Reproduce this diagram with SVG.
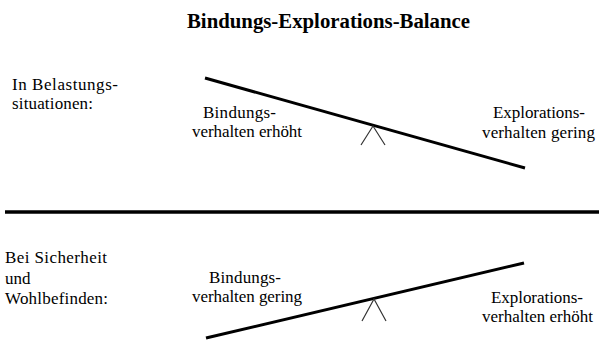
<svg xmlns="http://www.w3.org/2000/svg" width="599" height="340" viewBox="0 0 599 340">
<style>
text{font-family:"Liberation Serif","Times New Roman",serif;font-size:17px;fill:#000}
.title{font-weight:bold;font-size:20px}
.beam{stroke:#000;stroke-width:3;fill:none}
.sep{stroke:#000;stroke-width:3.5;fill:none}
.fulcrum{stroke:#333;stroke-width:1.2;fill:none}
</style>
<rect width="599" height="340" fill="#fff"/>
<g id="title"><text class="title" x="187" y="28" textLength="283" lengthAdjust="spacingAndGlyphs">Bindungs-Explorations-Balance</text></g>
<g id="label-belastung">
<text x="12" y="90" textLength="106" lengthAdjust="spacing">In Belastungs-</text>
<text x="12" y="109" textLength="81" lengthAdjust="spacing">situationen:</text>
</g>
<g id="label-sicherheit">
<text x="5" y="263" textLength="102" lengthAdjust="spacing">Bei Sicherheit</text>
<text x="5" y="284">und</text>
<text x="5" y="304" textLength="103" lengthAdjust="spacing">Wohlbefinden:</text>
</g>
<g id="top-balance">
<line class="beam" x1="205" y1="78" x2="525" y2="168"/>
<polyline class="fulcrum" points="361,145 373,126 385,145"/>
</g>
<g id="top-bindung">
<text x="203" y="118" textLength="73" lengthAdjust="spacing">Bindungs-</text>
<text x="192" y="137" textLength="110" lengthAdjust="spacing">verhalten erhöht</text>
</g>
<g id="top-exploration">
<text x="493" y="118" textLength="92" lengthAdjust="spacing">Explorations-</text>
<text x="482" y="138" textLength="113" lengthAdjust="spacing">verhalten gering</text>
</g>
<g id="separator"><line class="sep" x1="5" y1="212" x2="599" y2="212"/></g>
<g id="bottom-balance">
<line class="beam" x1="206" y1="338" x2="524" y2="263"/>
<polyline class="fulcrum" points="362,321 374,299 386,321"/>
</g>
<g id="bottom-bindung">
<text x="209" y="283" textLength="72" lengthAdjust="spacing">Bindungs-</text>
<text x="192" y="302" textLength="110" lengthAdjust="spacing">verhalten gering</text>
</g>
<g id="bottom-exploration">
<text x="491" y="303" textLength="92" lengthAdjust="spacing">Explorations-</text>
<text x="482" y="322" textLength="111" lengthAdjust="spacing">verhalten erhöht</text>
</g>
</svg>
